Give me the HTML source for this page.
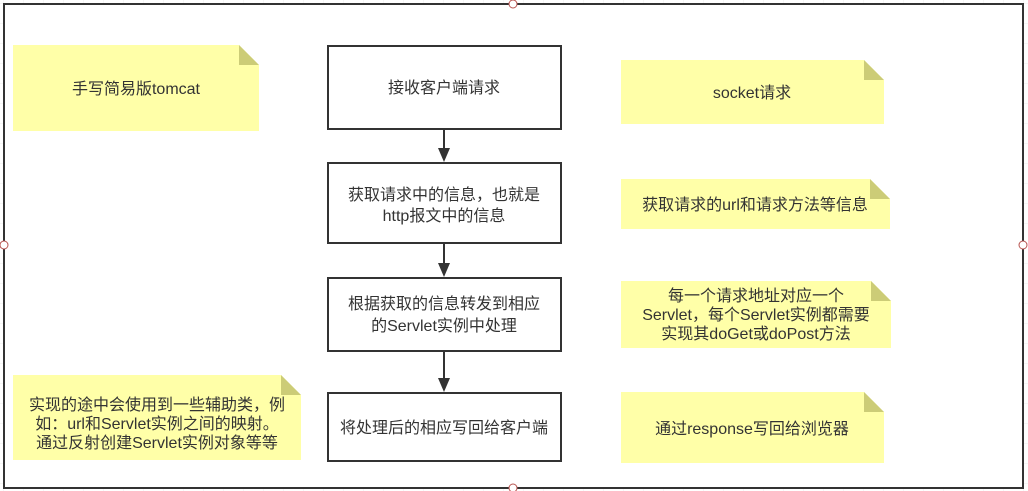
<!DOCTYPE html>
<html><head><meta charset="utf-8"><style>
html,body{margin:0;padding:0;background:#fff;width:1028px;height:491px;overflow:hidden}
svg text{font-family:"Liberation Sans","Noto Sans CJK SC",sans-serif;font-size:16px;fill:#333;text-anchor:middle}
</style></head><body>
<svg width="1028" height="491" xmlns="http://www.w3.org/2000/svg">
<defs>
<pattern id="g" width="20" height="20" patternUnits="userSpaceOnUse" x="4" y="4">
<path d="M20 0V20M0 20H20" stroke="#eee" stroke-width="1" fill="none"/>
</pattern>
</defs>
<rect width="1028" height="491" fill="url(#g)"/>
<rect x="4" y="4" width="1019" height="484" fill="#fff" stroke="#333" stroke-width="2"/>
<g fill="#fff" stroke="#b85450" stroke-width="1">
<circle cx="513" cy="4" r="4"/><circle cx="4" cy="245" r="4"/><circle cx="1023" cy="245" r="4"/><circle cx="513" cy="488" r="4"/>
</g>
<g fill="#fff" stroke="#333" stroke-width="2">
<rect x="328" y="46" width="233" height="83"/>
<rect x="328" y="163" width="233" height="80"/>
<rect x="328" y="278" width="233" height="73"/>
<rect x="328" y="393" width="233" height="68"/>
</g>
<g stroke="#333" stroke-width="2">
<line x1="444" y1="130" x2="444" y2="150"/>
<line x1="444" y1="244" x2="444" y2="265"/>
<line x1="444" y1="352" x2="444" y2="380"/>
</g>
<g fill="#333">
<path d="M438 148H450L444 162Z"/>
<path d="M438 263H450L444 277Z"/>
<path d="M438 378H450L444 392Z"/>
</g>
<text x="444" y="93">接收客户端请求</text>
<text x="444" y="200">获取请求中的信息，也就是</text>
<text x="444" y="221">http报文中的信息</text>
<text x="444" y="309">根据获取的信息转发到相应</text>
<text x="444" y="331">的Servlet实例中处理</text>
<text x="444" y="433">将处理后的相应写回给客户端</text>
<g fill="#ffffa8">
<path d="M13 45H239L259 65V131H13Z"/>
<path d="M621 60H864L884 80V124H621Z"/>
<path d="M621 179H870L890 199V229H621Z"/>
<path d="M621 281H871L891 301V348H621Z"/>
<path d="M621 392H864L884 412V463H621Z"/>
<path d="M13 375H281L301 395H301V460H13Z"/>
</g>
<g fill="#cccc77">
<path d="M239 45L259 65H239Z"/>
<path d="M864 60L884 80H864Z"/>
<path d="M870 179L890 199H870Z"/>
<path d="M871 281L891 301H871Z"/>
<path d="M864 392L884 412H864Z"/>
<path d="M281 375L301 395H281Z"/>
</g>
<text x="136" y="94">手写简易版tomcat</text>
<text x="752" y="98">socket请求</text>
<text x="755" y="210">获取请求的url和请求方法等信息</text>
<text x="756" y="301">每一个请求地址对应一个</text>
<text x="756" y="320">Servlet，每个Servlet实例都需要</text>
<text x="756" y="339">实现其doGet或doPost方法</text>
<text x="752" y="434">通过response写回给浏览器</text>
<text x="157" y="410">实现的途中会使用到一些辅助类，例</text>
<text x="157" y="429">如：url和Servlet实例之间的映射。</text>
<text x="157" y="448">通过反射创建Servlet实例对象等等</text>
</svg>
</body></html>
